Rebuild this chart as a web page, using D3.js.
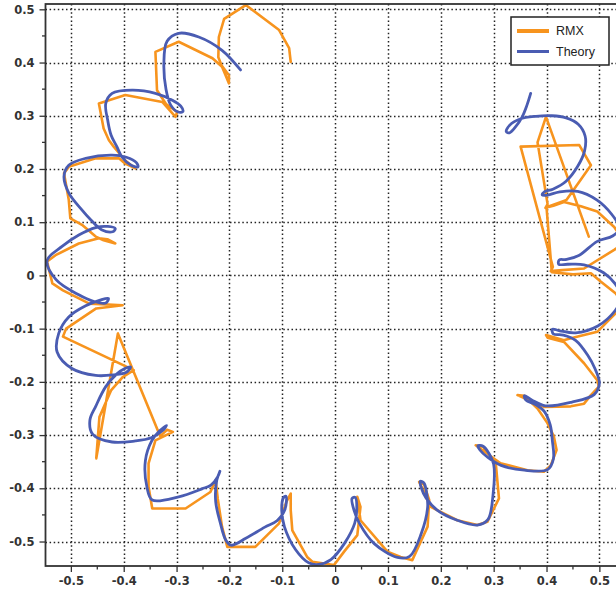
<!DOCTYPE html>
<html>
<head>
<meta charset="utf-8">
<script src="https://cdn.jsdelivr.net/npm/d3@7"></script>
<style>
  body { margin: 0; background: #fff; }
  svg { display: block; }
</style>
</head>
<body>
<svg id="chart" width="616" height="594"></svg>
<script>
// tick values and labels
var xTicks = [-0.5, -0.4, -0.3, -0.2, -0.1, 0, 0.1, 0.2, 0.3, 0.4, 0.5];
var xTickLabels = ["-0.5", "-0.4", "-0.3", "-0.2", "-0.1", "0", "0.1", "0.2", "0.3", "0.4", "0.5"];
var yTicks = [0.5, 0.4, 0.3, 0.2, 0.1, 0, -0.1, -0.2, -0.3, -0.4, -0.5];
var yTickLabels = ["0.5", "0.4", "0.3", "0.2", "0.1", "0", "-0.1", "-0.2", "-0.3", "-0.4", "-0.5"];
var minorTicks = [-0.45, -0.35, -0.25, -0.15, -0.05, 0.05, 0.15, 0.25, 0.35, 0.45];

var seriesNames = ["RMX", "Theory"];

// measured trajectory, [x, y]
var rmx = [
  [0.480,0.073],[0.399,0.298],[0.383,0.250],[0.402,0.134],[0.398,0.127],[0.413,0.131],[0.433,0.138],
  [0.465,0.130],[0.496,0.120],[0.528,0.091],[0.548,0.062],[0.528,0.048],[0.471,0.013],[0.430,0.010],
  [0.408,0.008],[0.412,0.016],[0.351,0.242],[0.462,0.245],[0.484,0.207],[0.438,0.142],[0.400,0.128],
  [0.410,0.006],[0.450,0.002],[0.484,0.004],[0.503,-0.012],[0.531,-0.034],[0.548,-0.058],[0.531,-0.071],
  [0.496,-0.106],[0.446,-0.118],[0.433,-0.122],[0.399,-0.112],[0.402,-0.117],[0.433,-0.125],[0.471,-0.165],
  [0.496,-0.197],[0.499,-0.209],[0.484,-0.225],[0.471,-0.241],[0.446,-0.246],[0.395,-0.247],[0.345,-0.225],
  [0.358,-0.226],[0.383,-0.250],[0.402,-0.278],[0.414,-0.303],[0.419,-0.328],[0.408,-0.357],[0.395,-0.369],
  [0.364,-0.366],[0.313,-0.353],[0.288,-0.335],[0.266,-0.319],[0.280,-0.322],[0.304,-0.353],[0.310,-0.419],
  [0.288,-0.463],[0.269,-0.469],[0.231,-0.460],[0.181,-0.435],[0.159,-0.388],[0.168,-0.392],[0.178,-0.422],
  [0.175,-0.472],[0.146,-0.535],[0.124,-0.529],[0.099,-0.519],[0.048,-0.460],[0.042,-0.416],[0.048,-0.435],
  [0.042,-0.488],[0.017,-0.519],[-0.002,-0.544],[-0.043,-0.538],[-0.053,-0.529],[-0.081,-0.479],[-0.084,-0.441],
  [-0.084,-0.410],[-0.092,-0.425],[-0.106,-0.466],[-0.151,-0.510],[-0.204,-0.510],[-0.214,-0.472],[-0.222,-0.420],
  [-0.226,-0.385],[-0.236,-0.407],[-0.283,-0.438],[-0.346,-0.438],[-0.353,-0.397],[-0.353,-0.353],[-0.340,-0.310],
  [-0.307,-0.294],[-0.318,-0.290],[-0.331,-0.302],[-0.411,-0.109],[-0.452,-0.344],[-0.446,-0.266],[-0.424,-0.216],
  [-0.402,-0.191],[-0.381,-0.178],[-0.515,-0.115],[-0.509,-0.100],[-0.452,-0.062],[-0.402,-0.056],[-0.465,-0.053],
  [-0.515,-0.028],[-0.535,-0.015],[-0.545,0.026],[-0.529,0.038],[-0.485,0.060],[-0.447,0.070],[-0.431,0.068],
  [-0.416,0.060],[-0.438,0.066],[-0.453,0.073],[-0.479,0.095],[-0.501,0.107],[-0.504,0.142],[-0.513,0.192],
  [-0.504,0.204],[-0.453,0.220],[-0.409,0.220],[-0.397,0.210],[-0.378,0.201],[-0.396,0.215],[-0.403,0.223],
  [-0.419,0.242],[-0.428,0.254],[-0.438,0.276],[-0.447,0.323],[-0.397,0.339],[-0.327,0.326],[-0.302,0.298],
  [-0.299,0.307],[-0.320,0.322],[-0.337,0.348],[-0.340,0.420],[-0.296,0.439],[-0.232,0.408],[-0.214,0.392],
  [-0.201,0.361],[-0.201,0.376],[-0.215,0.395],[-0.221,0.410],[-0.220,0.448],[-0.210,0.482],[-0.169,0.508],
  [-0.106,0.461],[-0.087,0.427],[-0.084,0.401]
];

// theoretical trajectory, [x, y]
var theory = [
  [0.370,0.342],[0.363,0.320],[0.354,0.298],[0.342,0.280],[0.330,0.268],[0.324,0.270],[0.330,0.282],
  [0.350,0.294],[0.380,0.299],[0.410,0.300],[0.437,0.296],[0.460,0.284],[0.473,0.262],[0.472,0.234],
  [0.459,0.205],[0.437,0.177],[0.412,0.162],[0.396,0.157],[0.392,0.151],[0.402,0.151],[0.425,0.157],
  [0.459,0.158],[0.495,0.142],[0.524,0.114],[0.538,0.088],[0.525,0.074],[0.496,0.064],[0.462,0.038],
  [0.438,0.030],[0.424,0.029],[0.423,0.021],[0.440,0.021],[0.471,0.020],[0.508,0.005],[0.530,-0.016],
  [0.542,-0.042],[0.530,-0.066],[0.497,-0.095],[0.455,-0.108],[0.425,-0.104],[0.411,-0.101],[0.413,-0.110],
  [0.432,-0.112],[0.455,-0.122],[0.478,-0.150],[0.492,-0.176],[0.500,-0.203],[0.490,-0.224],[0.448,-0.238],
  [0.398,-0.245],[0.372,-0.234],[0.358,-0.226],[0.361,-0.234],[0.380,-0.243],[0.396,-0.256],[0.407,-0.281],
  [0.411,-0.310],[0.413,-0.345],[0.402,-0.365],[0.358,-0.366],[0.314,-0.357],[0.289,-0.342],[0.274,-0.328],
  [0.270,-0.320],[0.280,-0.321],[0.292,-0.336],[0.300,-0.355],[0.299,-0.410],[0.289,-0.459],[0.269,-0.469],
  [0.231,-0.460],[0.193,-0.441],[0.172,-0.418],[0.163,-0.399],[0.161,-0.387],[0.168,-0.390],[0.173,-0.408],
  [0.175,-0.436],[0.163,-0.485],[0.141,-0.528],[0.118,-0.530],[0.074,-0.504],[0.046,-0.466],[0.036,-0.442],
  [0.032,-0.419],[0.038,-0.417],[0.041,-0.440],[0.037,-0.466],[0.018,-0.503],[-0.008,-0.534],[-0.031,-0.543],
  [-0.050,-0.540],[-0.075,-0.515],[-0.096,-0.472],[-0.101,-0.442],[-0.098,-0.418],[-0.093,-0.415],[-0.095,-0.440],
  [-0.110,-0.461],[-0.133,-0.473],[-0.169,-0.494],[-0.197,-0.507],[-0.207,-0.497],[-0.217,-0.466],[-0.226,-0.425],
  [-0.224,-0.385],[-0.218,-0.368],[-0.222,-0.378],[-0.235,-0.394],[-0.252,-0.401],[-0.296,-0.416],[-0.346,-0.422],
  [-0.356,-0.398],[-0.359,-0.348],[-0.347,-0.311],[-0.332,-0.292],[-0.319,-0.282],[-0.327,-0.292],[-0.348,-0.305],
  [-0.378,-0.311],[-0.422,-0.313],[-0.459,-0.298],[-0.464,-0.272],[-0.453,-0.246],[-0.434,-0.209],[-0.414,-0.186],
  [-0.398,-0.175],[-0.387,-0.172],[-0.395,-0.182],[-0.420,-0.187],[-0.453,-0.188],[-0.498,-0.175],[-0.526,-0.144],
  [-0.523,-0.109],[-0.504,-0.078],[-0.472,-0.057],[-0.446,-0.047],[-0.429,-0.043],[-0.434,-0.052],[-0.456,-0.049],
  [-0.486,-0.036],[-0.528,-0.008],[-0.545,0.028],[-0.516,0.055],[-0.485,0.076],[-0.453,0.090],[-0.430,0.092],
  [-0.416,0.088],[-0.421,0.082],[-0.442,0.086],[-0.462,0.104],[-0.480,0.124],[-0.504,0.155],[-0.513,0.186],
  [-0.504,0.207],[-0.472,0.220],[-0.422,0.226],[-0.395,0.222],[-0.376,0.212],[-0.373,0.204],[-0.386,0.207],
  [-0.403,0.222],[-0.413,0.242],[-0.424,0.264],[-0.430,0.290],[-0.434,0.323],[-0.422,0.342],[-0.384,0.348],
  [-0.340,0.342],[-0.308,0.329],[-0.292,0.318],[-0.288,0.308],[-0.297,0.307],[-0.311,0.320],[-0.320,0.350],
  [-0.324,0.398],[-0.318,0.440],[-0.296,0.455],[-0.258,0.448],[-0.214,0.423],[-0.179,0.386]
];

var colors = { RMX: "#f7941e", Theory: "#4a5cb2" };

var svg = d3.select("#chart");

var x = d3.scaleLinear().domain([-0.548, 0.55]).range([45.5, 625.8]);
var y = d3.scaleLinear().domain([-0.546, 0.51]).range([566, 4]);

var plotLeft = x.range()[0], plotRight = x.range()[1];
var plotTop = y.range()[1], plotBottom = y.range()[0];

svg.append("clipPath").attr("id", "plotclip")
  .append("rect")
  .attr("x", plotLeft).attr("y", plotTop)
  .attr("width", plotRight - plotLeft).attr("height", plotBottom - plotTop);

// dotted grid
var grid = svg.append("g").attr("class", "grid");
grid.selectAll("line.gx").data(xTicks).enter().append("line")
  .attr("class", "gx")
  .attr("x1", function(d) { return Math.round(x(d)) + 0.5; })
  .attr("x2", function(d) { return Math.round(x(d)) + 0.5; })
  .attr("y1", plotTop).attr("y2", plotBottom);
grid.selectAll("line.gy").data(yTicks).enter().append("line")
  .attr("class", "gy")
  .attr("y1", function(d) { return Math.round(y(d)) + 0.5; })
  .attr("y2", function(d) { return Math.round(y(d)) + 0.5; })
  .attr("x1", plotLeft).attr("x2", plotRight);
grid.selectAll("line")
  .attr("stroke", "#222")
  .attr("stroke-width", 1.5)
  .attr("stroke-dasharray", "1.5,2.6");

// curves
var plot = svg.append("g").attr("clip-path", "url(#plotclip)");

var rmxLine = d3.line()
  .x(function(d) { return x(d[0]); })
  .y(function(d) { return y(d[1]); })
  .curve(d3.curveLinear);

var theoryLine = d3.line()
  .x(function(d) { return x(d[0]); })
  .y(function(d) { return y(d[1]); })
  .curve(d3.curveCatmullRom.alpha(0.5));

plot.append("path")
  .attr("d", rmxLine(rmx))
  .attr("fill", "none")
  .attr("stroke", colors.RMX)
  .attr("stroke-width", 2.6)
  .attr("stroke-linejoin", "round")
  .attr("stroke-linecap", "round");

plot.append("path")
  .attr("d", theoryLine(theory))
  .attr("fill", "none")
  .attr("stroke", colors.Theory)
  .attr("stroke-width", 2.8)
  .attr("stroke-linejoin", "round")
  .attr("stroke-linecap", "round");

// axes
var xAxis = d3.axisBottom(x)
  .tickValues(xTicks)
  .tickFormat(function(d, i) { return xTickLabels[i]; })
  .tickSize(6).tickPadding(5);
var yAxis = d3.axisLeft(y)
  .tickValues(yTicks)
  .tickFormat(function(d, i) { return yTickLabels[i]; })
  .tickSize(6).tickPadding(5);

var gx = svg.append("g").attr("transform", "translate(0," + plotBottom + ")").call(xAxis);
var gy = svg.append("g").attr("transform", "translate(" + plotLeft + ",0)").call(yAxis);

// minor ticks
gx.selectAll("line.minor").data(minorTicks).enter().append("line")
  .attr("class", "minor")
  .attr("x1", function(d) { return x(d); }).attr("x2", function(d) { return x(d); })
  .attr("y1", 0).attr("y2", 3.5);
gy.selectAll("line.minor").data(minorTicks).enter().append("line")
  .attr("class", "minor")
  .attr("y1", function(d) { return y(d); }).attr("y2", function(d) { return y(d); })
  .attr("x1", 0).attr("x2", -3.5);

[gx, gy].forEach(function(g) {
  g.select(".domain").remove();
  g.selectAll("line").attr("stroke", "#333").attr("stroke-width", 1.3);
  g.selectAll("text")
    .attr("fill", "#333")
    .style("font-family", "'DejaVu Sans', sans-serif")
    .style("font-size", "11.5px")
    .style("font-weight", "bold");
});

// frame
svg.append("rect")
  .attr("x", plotLeft).attr("y", plotTop)
  .attr("width", plotRight - plotLeft).attr("height", plotBottom - plotTop)
  .attr("fill", "none")
  .attr("stroke", "#333")
  .attr("stroke-width", 1.8);

// legend
var legend = svg.append("g").attr("transform", "translate(511,17)");
legend.append("rect")
  .attr("width", 98).attr("height", 48)
  .attr("fill", "#fff")
  .attr("stroke", "#222")
  .attr("stroke-width", 1.5);

var items = legend.selectAll("g.item").data(seriesNames).enter().append("g")
  .attr("transform", function(d, i) { return "translate(6," + (14 + i * 20.5) + ")"; });
items.append("line")
  .attr("x1", 0).attr("x2", 32)
  .attr("stroke", function(d) { return colors[d]; })
  .attr("stroke-width", function(d) { return d === "RMX" ? 4 : 3; });
items.append("text")
  .attr("x", 39).attr("dy", "0.35em")
  .attr("fill", "#222")
  .style("font-family", "'Liberation Sans', Arial, sans-serif")
  .style("font-size", "12.5px")
  .text(function(d) { return d; });
</script>
</body>
</html>
